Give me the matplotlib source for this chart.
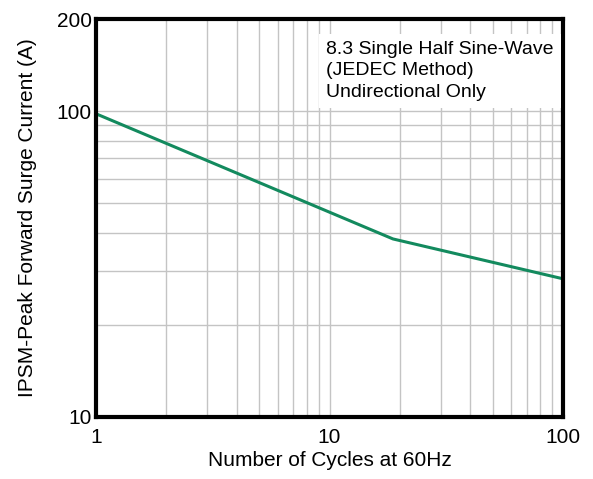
import matplotlib
matplotlib.use('Agg')
import matplotlib.pyplot as plt
from matplotlib.ticker import FixedLocator, NullFormatter

plt.rcParams['font.family'] = ['Liberation Sans', 'DejaVu Sans']

# surge current curve
cycles = [1, 18.7, 100]
current = [98, 38.2, 28.3]

x_ticks = [1, 10, 100]
x_labels = ['1', '10', '100']
y_ticks = [10, 100, 200]
y_labels = ['10', '100', '200']
y_grid_minor = [20, 30, 40, 50, 60, 70, 80, 90]

note = '8.3 Single Half Sine-Wave\n(JEDEC Method)\nUndirectional Only'

fig = plt.figure(figsize=(5.93, 4.79), dpi=100)
ax = fig.add_axes([96 / 593, 62 / 479, 467 / 593, 398 / 479])

ax.set_xscale('log')
ax.set_yscale('log')
ax.set_xlim(1, 100)
ax.set_ylim(10, 200)

ax.xaxis.set_major_locator(FixedLocator(x_ticks))
ax.set_xticklabels(x_labels)
ax.xaxis.set_minor_locator(FixedLocator([m * d for d in (1, 10) for m in range(2, 10)]))
ax.xaxis.set_minor_formatter(NullFormatter())
ax.yaxis.set_major_locator(FixedLocator(y_ticks))
ax.set_yticklabels(y_labels)
ax.yaxis.set_minor_locator(FixedLocator(y_grid_minor))
ax.yaxis.set_minor_formatter(NullFormatter())

ax.grid(True, which='both', color='#c4c4c4', linewidth=1.0)
ax.tick_params(which='both', length=0, labelsize=15, pad=3)
ax.tick_params(axis='x', pad=8)
for s in ax.spines.values():
    s.set_linewidth(3)
    s.set_color('black')

ax.plot(cycles, current, color='#138a5e', linewidth=2.2, solid_joinstyle='round')

ax.text(0.493, 0.945, note, transform=ax.transAxes, fontsize=14, va='top', ha='left',
        linespacing=1.35,
        bbox=dict(facecolor='white', edgecolor='none', pad=5))

ax.set_xlabel('Number of Cycles at 60Hz', fontsize=15, labelpad=3)
ax.set_ylabel('IPSM-Peak Forward Surge Current (A)', fontsize=15, labelpad=14)

fig.savefig('out.png', dpi=100)
